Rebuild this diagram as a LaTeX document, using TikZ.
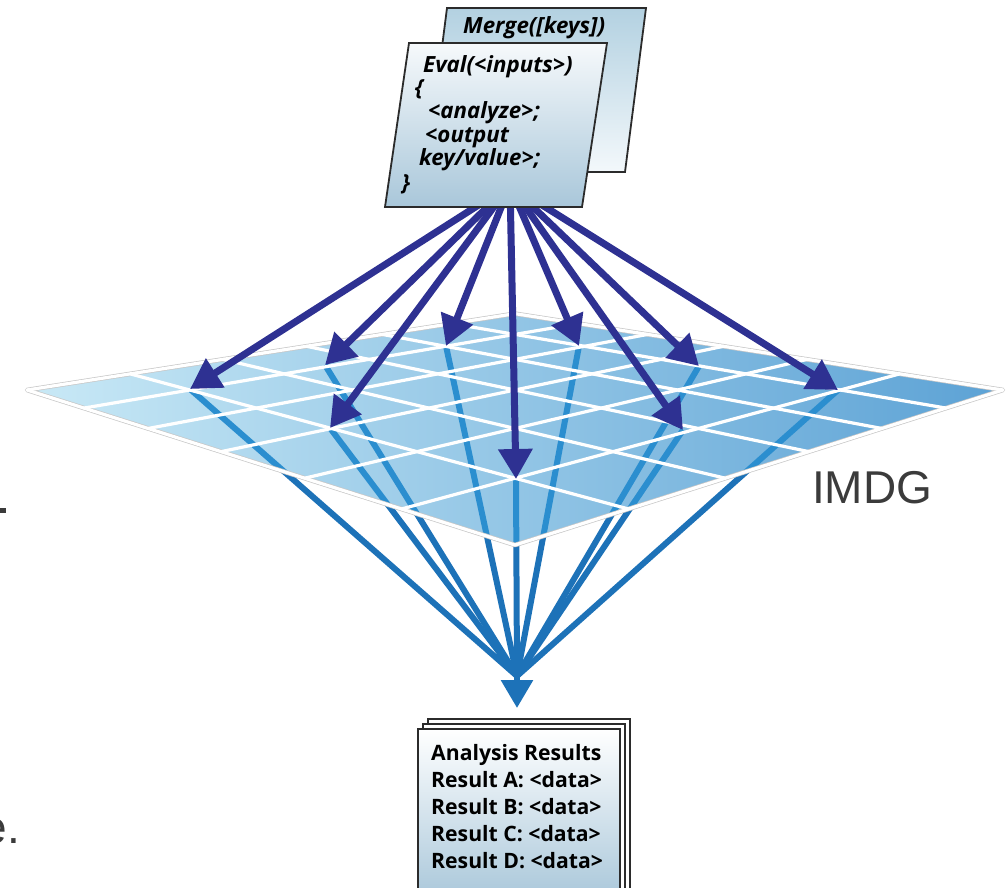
\documentclass[tikz,border=0pt]{standalone}
\usepackage{fontspec}
\newfontfamily\cardfont{Open Sans}
\newfontfamily\labelfont{Liberation Sans}
\usetikzlibrary{arrows.meta}
\definecolor{navy}{HTML}{2E3192}
\definecolor{flowblue}{HTML}{1D72B8}
\definecolor{flowbluein}{HTML}{2B8ECF}
\definecolor{gridlight}{HTML}{C9E9F6}
\definecolor{gridmid}{HTML}{98CDEA}
\definecolor{griddark}{HTML}{5CA2D5}
\definecolor{cardtop}{HTML}{F6F9FB}
\definecolor{cardbot}{HTML}{A9C7DA}
\definecolor{backtop}{HTML}{B3D1E1}
\definecolor{backbot}{HTML}{F3F8FB}
\definecolor{edgegrey}{HTML}{2B2B2B}
\definecolor{labelgrey}{HTML}{3B3B3B}
\begin{document}
\begin{tikzpicture}[x=1pt,y=-1pt,
  feed/.style={draw=navy, line width=7pt, -{Triangle[length=30pt,width=33pt]}},
  flow/.style={draw=flowblue, line width=6pt},
  flowin/.style={draw=flowbluein, line width=6pt},
  gridline/.style={draw=white, line width=3.2pt, line cap=round},
  card/.style={draw=edgegrey, line width=1.8pt, line join=miter},
  page/.style={draw=edgegrey, line width=1.6pt},
  cardtext/.style={inner sep=0pt, anchor=base west,
    font=\cardfont\bfseries\itshape\fontsize{22.3}{26}\selectfont},
  restext/.style={inner sep=0pt, anchor=base west,
    font=\cardfont\bfseries\fontsize{21.2}{25}\selectfont},
]
\useasboundingbox (0,0) rectangle (1007,887);

% perspective grid points of the 6x6 data grid
\foreach \i in {0,...,6}{
  \foreach \j in {0,...,6}{
    \pgfmathsetmacro\gd{1+0.34*((\i+\j)/6-1)}
    \pgfmathsetmacro\gx{515+1435*0.34*(\i-\j)/6/\gd}
    \pgfmathsetmacro\gy{89.1+300.9/\gd}
    \coordinate (g-\i-\j) at (\gx,\gy);
  }
}

% where the evaluation arrows land
\coordinate (o) at (510,185);
\coordinate (t1) at (190,389);
\coordinate (t2) at (325,365);
\coordinate (t3) at (330,428);
\coordinate (t4) at (446,346);
\coordinate (t5) at (516,479);
\coordinate (t6) at (579,346);
\coordinate (t7) at (699,366);
\coordinate (t8) at (683,430);
\coordinate (t9) at (838,390);
\coordinate (c) at (517,676);
\coordinate (rtip) at (517,708);

% result streams below the grid
\foreach \k in {1,...,9}{ \draw[flow] (t\k) -- (c); }

% grid surface
\fill[left color=gridlight, middle color=gridmid, right color=griddark]
  (g-0-0) -- (g-6-0) -- (g-6-6) -- (g-0-6) -- cycle;
\begin{scope}
  \clip (g-0-0) -- (g-6-0) -- (g-6-6) -- (g-0-6) -- cycle;
  \foreach \k in {1,...,9}{ \draw[flowin] (t\k) -- (c); }
\end{scope}
\draw[draw=black!22, line width=4.6pt, line join=round]
  (g-0-0) -- (g-6-0) -- (g-6-6) -- (g-0-6) -- cycle;
\foreach \k in {0,...,6}{
  \draw[gridline] (g-\k-0) -- (g-\k-6);
  \draw[gridline] (g-0-\k) -- (g-6-\k);
}

% evaluation arrows
\foreach \k in {1,...,9}{ \draw[feed] (o) -- (t\k); }

% merged result arrow
\draw[flow, -{Triangle[length=28pt,width=31pt]}] (c) -- (rtip);

% code cards
\filldraw[card, top color=backtop, bottom color=backbot]
  (447,8) -- (646,8) -- (625,172) -- (426,172) -- cycle;
\node[cardtext] (merge) at (463,33) {Merge([keys])};
\filldraw[card, top color=cardtop, bottom color=cardbot]
  (409,43) -- (607,43) -- (582,207) -- (385,207) -- cycle;
\node[cardtext] (e1) at (423,72) {Eval(<inputs>)};
\node[cardtext] (e2) at (415,95) {\{};
\node[cardtext] (e3) at (428,118) {<analyze>;};
\node[cardtext] (e4) at (425,142) {<output};
\node[cardtext] (e5) at (419,165) {key/value>;};
\node[cardtext] (e6) at (402,190) {\}};

% stacked result pages
\filldraw[page, fill=white] (428,719) rectangle (630,900);
\filldraw[page, fill=white] (423,724) rectangle (625,900);
\filldraw[page, top color=white, bottom color=cardbot] (418,729) rectangle (620,900);
\node[restext] (r0) at (431,760) {Analysis Results};
\node[restext] (r1) at (431,787) {Result A: <data>};
\node[restext] (r2) at (431,814) {Result B: <data>};
\node[restext] (r3) at (431,841) {Result C: <data>};
\node[restext] (r4) at (431,868) {Result D: <data>};

% grid label
\node[inner sep=0pt, anchor=base west, text=labelgrey,
  font=\labelfont\fontsize{46}{50}\selectfont] (imdg) at (812,503) {IMDG};

% slide text running in from the left margin
\fill[labelgrey] (0,508) rectangle (6,513);
\node[inner sep=0pt, anchor=base west, text=labelgrey,
  font=\labelfont\fontsize{46}{50}\selectfont] (edge) at (-18.6,843) {e.};
\end{tikzpicture}
\end{document}
